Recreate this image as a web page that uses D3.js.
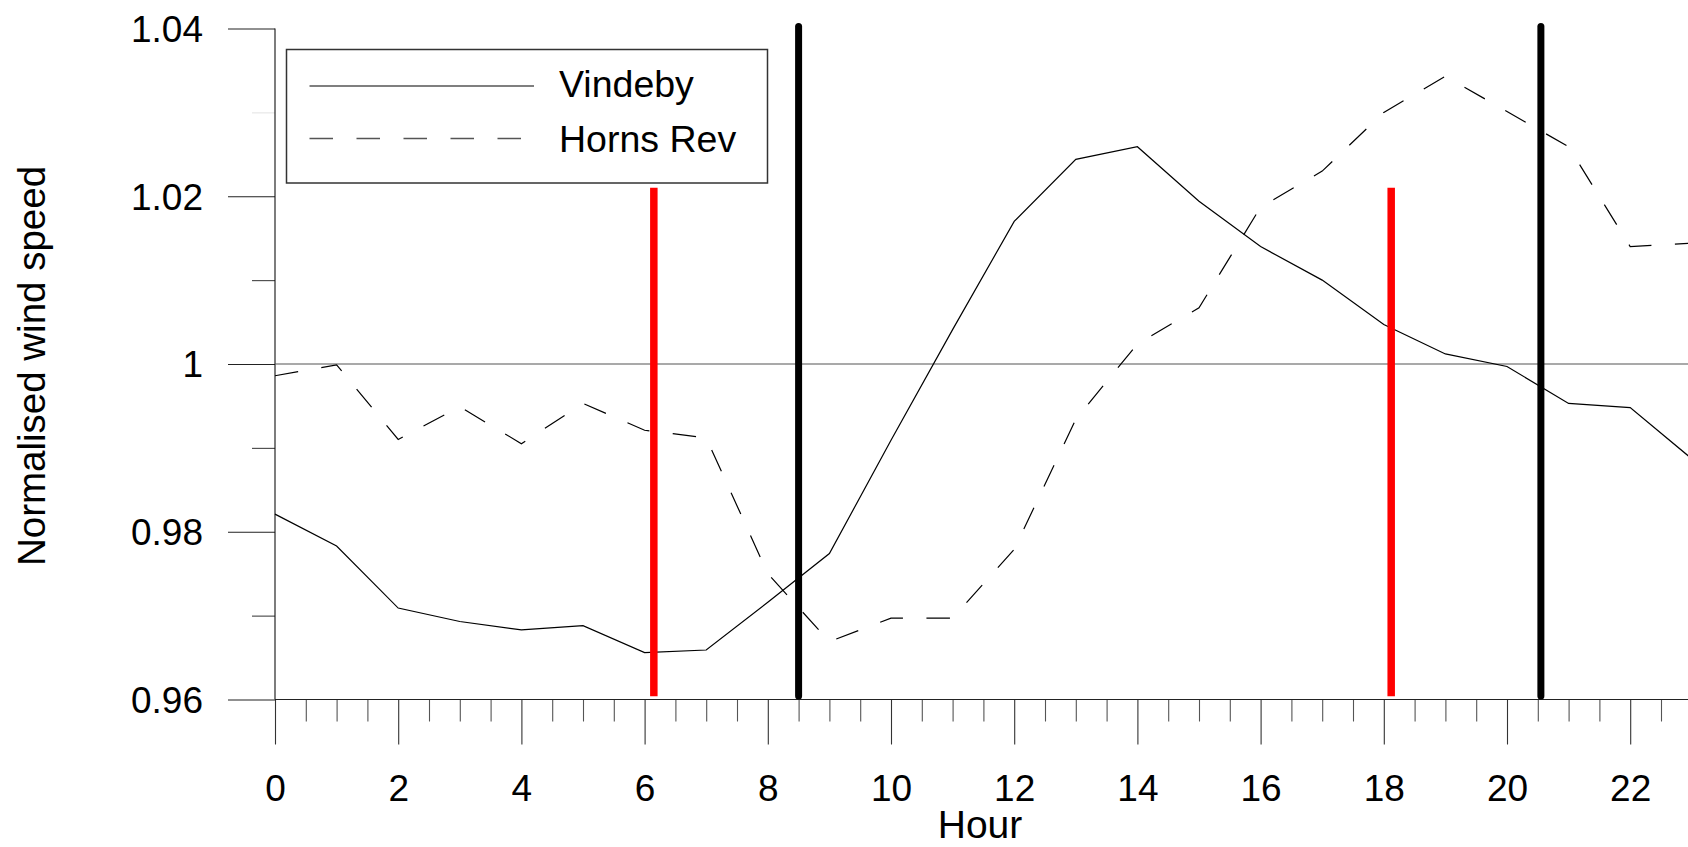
<!DOCTYPE html>
<html>
<head>
<meta charset="utf-8">
<script src="https://cdn.jsdelivr.net/npm/d3@7"></script>
<style>
  html, body { margin: 0; padding: 0; background: #fff; }
  svg { display: block; }
  text { font-family: "Liberation Sans", Arial, sans-serif; fill: #000; }
</style>
</head>
<body>
<svg id="chart" width="1688" height="847"></svg>
<script>
// ---- data ----
const hours = [0,1,2,3,4,5,6,7,8,9,10,11,12,13,14,15,16,17,18,19,20,21,22,23];
const vindeby = [0.9821,0.9783,0.9709,0.9693,0.9683,0.9688,0.9656,0.9659,0.9716,0.9774,0.9909,1.0041,
                 1.0170,1.0244,1.0259,1.0194,1.0140,1.0100,1.0047,1.0012,0.9997,0.9953,0.9948,0.9887];
const hornsRev = [0.9986,0.9999,0.9910,0.9949,0.9905,0.9953,0.9921,0.9912,0.9750,0.9669,0.9697,0.9697,
                  0.9779,0.9934,1.0024,1.0067,1.0187,1.0230,1.0300,1.0343,1.0301,1.0259,1.0140,1.0144];
const seriesNames = ["Vindeby", "Horns Rev"];
const xTickValues = [0,2,4,6,8,10,12,14,16,18,20,22];
const xTickLabels = ["0","2","4","6","8","10","12","14","16","18","20","22"];
const xMinorTicks = [0.5,1,1.5,2.5,3,3.5,4.5,5,5.5,6.5,7,7.5,8.5,9,9.5,10.5,11,11.5,12.5,13,13.5,
                     14.5,15,15.5,16.5,17,17.5,18.5,19,19.5,20.5,21,21.5,22.5,23,23.5];
const yTickValues = [0.96,0.98,1.00,1.02,1.04];
const yTickLabels = ["0.96","0.98","1","1.02","1.04"];
const yMinorTicks = [0.97,0.99,1.01,1.03];
const redLines = [6.15, 18.12];      // hour positions
const redTop = 1.021, redBottom = 0.9604;
const blackLines = [8.50, 20.55];    // hour positions
const blackTop = 1.04, blackBottom = 0.96;
const refValue = 1.0;
const xTitle = "Hour";
const yTitle = "Normalised wind speed";

// ---- scales ----
const svg = d3.select("#chart");
const x = d3.scaleLinear().domain([0, 24]).range([275, 275 + 24 * 61.6]);
const y = d3.scaleLinear().domain([0.96, 1.04]).range([699.5, 28.5]);
const W = 1688;

// ---- axes ----
const xMajor = d3.axisBottom(x).tickValues(xTickValues).tickSize(45)
  .tickFormat((d, i) => xTickLabels[i]);
const gx = svg.append("g").attr("transform", `translate(0,${y(0.96)})`).call(xMajor);
gx.select(".domain").remove();
gx.selectAll(".tick line").attr("stroke", "#333").attr("stroke-width", 1.1);
gx.selectAll(".tick text").attr("y", 101).attr("dy", 0)
  .style("font-size", "37px").style("font-family", "'Liberation Sans', Arial, sans-serif")
  .attr("fill", "#000");

const xMinor = d3.axisBottom(x).tickValues(xMinorTicks).tickSize(22).tickFormat("");
const gxm = svg.append("g").attr("transform", `translate(0,${y(0.96)})`).call(xMinor);
gxm.select(".domain").remove();
gxm.selectAll(".tick line").attr("stroke", "#555").attr("stroke-width", 1.1);

// x axis baseline
svg.append("line").attr("x1", x(0)).attr("x2", W).attr("y1", y(0.96)).attr("y2", y(0.96))
  .attr("stroke", "#222").attr("stroke-width", 1.2);

const yMajor = d3.axisLeft(y).tickValues(yTickValues).tickSize(47).tickPadding(25)
  .tickFormat((d, i) => yTickLabels[i]);
const gy = svg.append("g").attr("transform", `translate(${x(0)},0)`).call(yMajor);
gy.select(".domain").remove();
gy.selectAll(".tick line").attr("stroke", "#222").attr("stroke-width", 1.1);
gy.selectAll(".tick text").attr("dy", "0.35em")
  .style("font-size", "37px").style("font-family", "'Liberation Sans', Arial, sans-serif")
  .attr("fill", "#000");

const yMinor = d3.axisLeft(y).tickValues(yMinorTicks).tickSize(23).tickFormat("");
const gym = svg.append("g").attr("transform", `translate(${x(0)},0)`).call(yMinor);
gym.select(".domain").remove();
gym.selectAll(".tick line").attr("stroke", d => d === 1.03 ? "#e4e4e4" : "#444").attr("stroke-width", 1.1);

// y axis line
svg.append("line").attr("x1", x(0)).attr("x2", x(0)).attr("y1", y(1.04)).attr("y2", y(0.96))
  .attr("stroke", "#111").attr("stroke-width", 1.1);

// reference line at 1
svg.append("line").attr("x1", x(0)).attr("x2", W).attr("y1", y(refValue)).attr("y2", y(refValue))
  .attr("stroke", "#555").attr("stroke-width", 1.2);

// ---- series ----
const line = d3.line().x(d => x(d[0])).y(d => y(d[1]));
svg.append("path").datum(hours.map((h, i) => [h, vindeby[i]]))
  .attr("d", line).attr("fill", "none").attr("stroke", "#000").attr("stroke-width", 1.2);
svg.append("path").datum(hours.map((h, i) => [h, hornsRev[i]]))
  .attr("d", line).attr("fill", "none").attr("stroke", "#000").attr("stroke-width", 1.2)
  .attr("stroke-dasharray", "23.5,23.5");

// ---- vertical markers ----
svg.selectAll(".red").data(redLines).enter().append("line")
  .attr("x1", d => x(d)).attr("x2", d => x(d))
  .attr("y1", y(redTop)).attr("y2", y(redBottom))
  .attr("stroke", "#ff0000").attr("stroke-width", 7.5);

svg.selectAll(".black").data(blackLines).enter().append("line")
  .attr("x1", d => x(d)).attr("x2", d => x(d))
  .attr("y1", y(blackTop) - 2).attr("y2", y(blackBottom) - 3.5)
  .attr("stroke", "#000").attr("stroke-width", 7).attr("stroke-linecap", "round");

// ---- legend ----
const lg = svg.append("g");
lg.append("rect").attr("x", 286.5).attr("y", 49.5).attr("width", 481).attr("height", 133.5)
  .attr("fill", "#fff").attr("stroke", "#333").attr("stroke-width", 1.5);
lg.append("line").attr("x1", 309.5).attr("x2", 534).attr("y1", 86).attr("y2", 86)
  .attr("stroke", "#555").attr("stroke-width", 1.5);
lg.append("line").attr("x1", 309.5).attr("x2", 534).attr("y1", 138.5).attr("y2", 138.5)
  .attr("stroke", "#555").attr("stroke-width", 1.5).attr("stroke-dasharray", "23.5,23.5");
lg.append("text").attr("x", 559).attr("y", 97).style("font-size", "37.5px").text(seriesNames[0]);
lg.append("text").attr("x", 559).attr("y", 152).style("font-size", "37.5px").text(seriesNames[1]);

// ---- titles ----
svg.append("text").attr("x", 980).attr("y", 838).attr("text-anchor", "middle")
  .style("font-size", "39px").text(xTitle);
svg.append("text").attr("transform", "translate(45,366) rotate(-90)").attr("text-anchor", "middle")
  .style("font-size", "38.5px").text(yTitle);
</script>
</body>
</html>
